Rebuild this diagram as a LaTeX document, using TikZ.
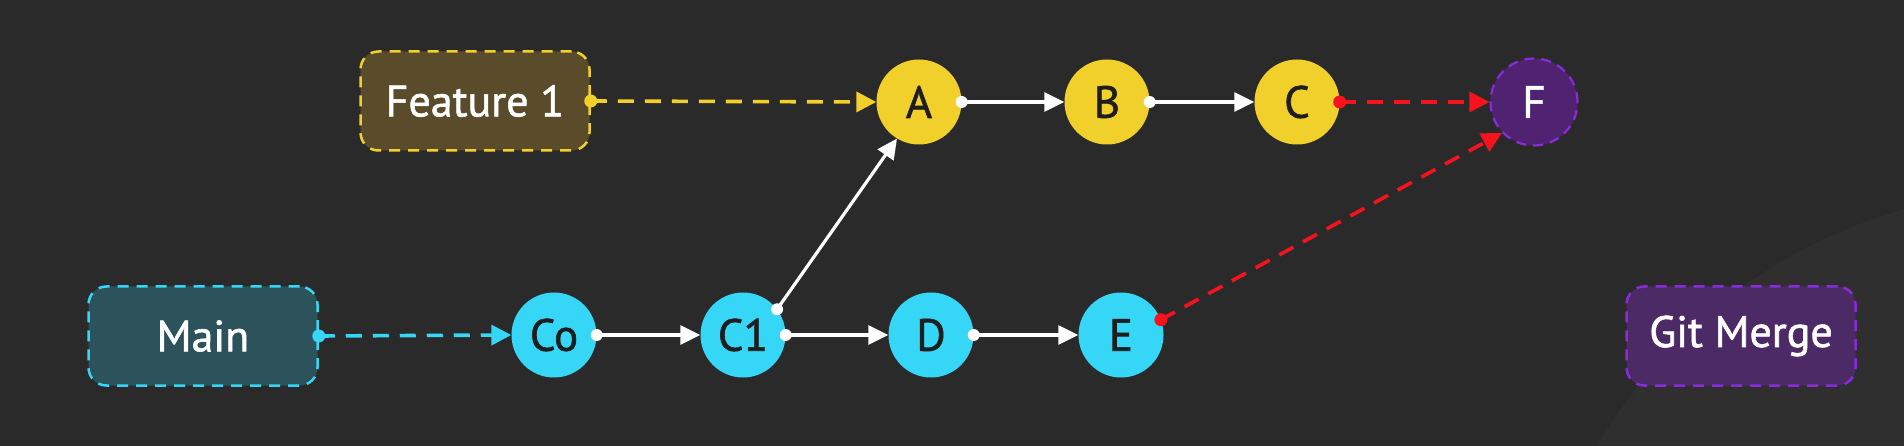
\documentclass[tikz,border=0pt]{standalone}
\usepackage{fontspec}
\setmainfont{PT Sans}
\newfontfamily\diafont[FakeBold=1.3]{PT Sans}
\usetikzlibrary{arrows.meta}
\definecolor{bg}{HTML}{2A2A2A}
\definecolor{bgarc}{HTML}{2F2F2F}
\definecolor{gyel}{HTML}{F2D02C}
\definecolor{gcyan}{HTML}{36D6F7}
\definecolor{gpurp}{HTML}{4F2371}
\definecolor{gpurpline}{HTML}{8A2BD9}
\definecolor{gred}{HTML}{F5141E}
\definecolor{featfill}{HTML}{5A4C2B}
\definecolor{mainfill}{HTML}{2C525B}
\definecolor{mergefill}{HTML}{4C2A66}
\definecolor{darktext}{HTML}{1E1E1E}
\tikzset{
  commit/.style={circle, minimum size=85pt, inner sep=0pt, font=\diafont\fontsize{45}{45}\selectfont, text=darktext},
  ycommit/.style={commit, fill=gyel},
  ccommit/.style={commit, fill=gcyan},
  label box/.style={rounded corners=18pt, minimum width=229pt, minimum height=99pt, line width=2.5pt, dash pattern=on 11pt off 8pt, font=\diafont\fontsize{44}{44}\selectfont, text=white},
  solidarrow/.style={white, line width=3.2pt, -{Triangle[length=20pt,width=19pt]}},
  dasharrow/.style={line width=3.6pt, dash pattern=on 16pt off 11pt, -{Triangle[length=20pt,width=20pt]}},
}
\begin{document}
\begin{tikzpicture}[x=1pt,y=-1pt]
\fill[bg] (0,0) rectangle (1904,446);
\useasboundingbox (0,0) rectangle (1904,446);
\begin{scope}
\clip (0,0) rectangle (1904,446);
\fill[bgarc] (2045,710) circle (520pt);
\end{scope}
% label boxes
\node[label box, fill=featfill, draw=gyel] (feat) at (475,101) {Feature 1};
\node[label box, fill=mainfill, draw=gcyan] (main) at (203,336) {Main};
\node[label box, fill=mergefill, draw=gpurpline] (merge) at (1741,336) {Git Merge};
% commits
\node[ycommit] (A) at (919,102) {A};
\node[ycommit] (B) at (1107,102) {B};
\node[ycommit] (C) at (1297,102) {C};
\node[commit, fill=gpurp, draw=gpurpline, line width=2.2pt, dash pattern=on 10pt off 7pt, text=white, minimum size=87pt] (F) at (1534,102) {F};
\node[ccommit] (C0) at (554,335) {Co};
\node[ccommit] (C1) at (743,335) {C1};
\node[ccommit] (D) at (931,335) {D};
\node[ccommit] (E) at (1121,335) {E};
% dashed pointers
\draw[dasharrow, gyel] (feat.east) -- (A.west);
\fill[gyel] (feat.east) circle (6.5pt);
\draw[dasharrow, gcyan] (main.east) -- (C0.west);
\fill[gcyan] (main.east) circle (6.5pt);
% solid commit links
\draw[solidarrow] (C0.east) -- (C1.west);
\fill[white] (C0.east) circle (6pt);
\draw[solidarrow] (C1.east) -- (D.west);
\fill[white] (C1.east) circle (6pt);
\draw[solidarrow] (D.east) -- (E.west);
\fill[white] (D.east) circle (6pt);
\draw[solidarrow] (C1.37) -- (A.239);
\fill[white] (C1.37) circle (6pt);
\draw[solidarrow] (A.east) -- (B.west);
\fill[white] (A.east) circle (6pt);
\draw[solidarrow] (B.east) -- (C.west);
\fill[white] (B.east) circle (6pt);
% merge
\draw[dasharrow, gred] (C.east) -- (F.west);
\fill[gred] (C.east) circle (6.5pt);
\draw[dasharrow, gred] (E.21) -- (F.224);
\fill[gred] (E.21) circle (6.5pt);
\end{tikzpicture}
\end{document}
